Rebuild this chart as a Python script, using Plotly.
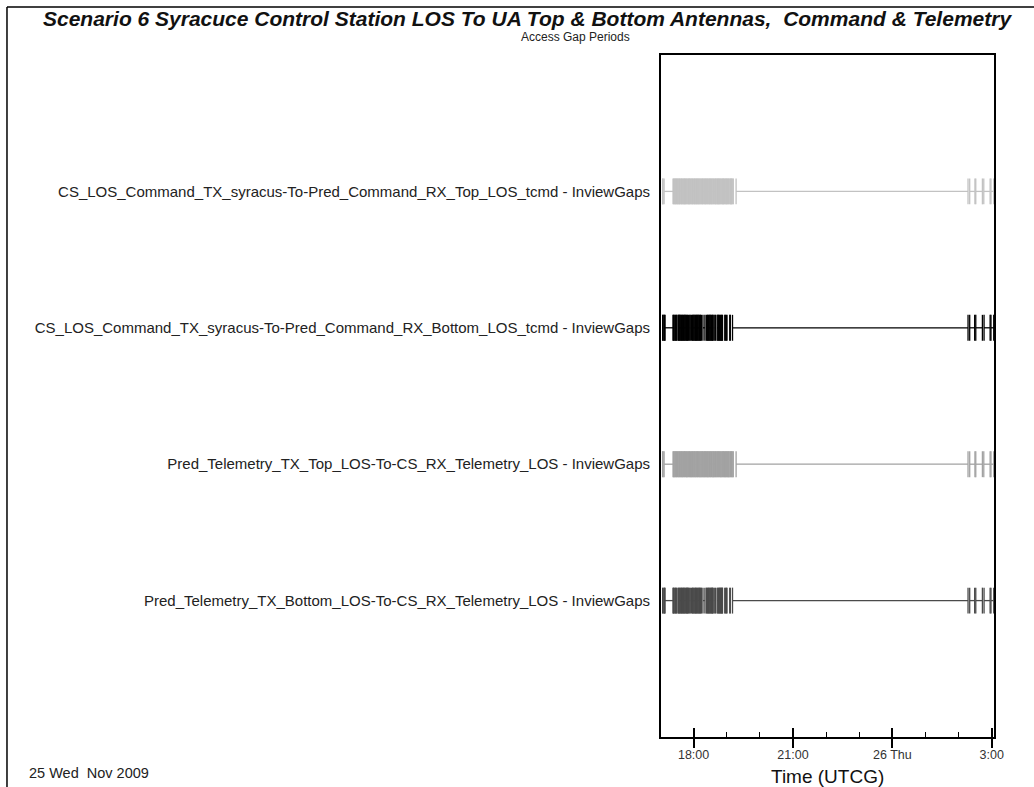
import pandas as pd
import plotly.graph_objects as go

# Scenario epoch; all gap times are minutes after this instant
epoch = pd.Timestamp("2009-11-25 17:00:00")
axis_start_min = 1.0
axis_stop_min = 604.0

row_labels = [
    "CS_LOS_Command_TX_syracus-To-Pred_Command_RX_Top_LOS_tcmd - InviewGaps",
    "CS_LOS_Command_TX_syracus-To-Pred_Command_RX_Bottom_LOS_tcmd - InviewGaps",
    "Pred_Telemetry_TX_Top_LOS-To-CS_RX_Telemetry_LOS - InviewGaps",
    "Pred_Telemetry_TX_Bottom_LOS-To-CS_RX_Telemetry_LOS - InviewGaps",
]
row_colors = ["#c2c2c2", "#000000", "#a2a2a2", "#4a4a4a"]

# Gap periods seen by the top antenna (minutes after epoch)
top_gap_start = [3.9, 6.6, 24.0, 26.4, 28.8, 31.0, 33.6, 35.8, 38.3, 40.4, 43.0, 45.2,
                 47.6, 49.9, 52.4, 54.7, 57.1, 59.4, 61.9, 64.1, 66.5, 68.9, 71.3, 73.6,
                 76.0, 78.4, 80.8, 83.1, 85.5, 87.8, 90.2, 92.6, 95.0, 97.3, 99.7, 102.1,
                 104.5, 106.8, 109.2, 111.6, 114.0, 116.3, 118.7, 121.1, 123.5, 126.0,
                 128.4, 131.0, 137.0, 560.0, 571.0, 585.5, 598.5]
top_gap_stop = [4.6, 22.8, 25.0, 27.2, 29.6, 32.2, 34.4, 36.9, 39.1, 41.6, 43.8, 46.3,
                48.5, 51.0, 53.2, 55.8, 58.0, 60.5, 62.7, 65.2, 67.4, 69.9, 72.1, 74.7,
                76.9, 79.4, 81.6, 84.2, 86.4, 88.9, 91.1, 93.6, 95.8, 98.4, 100.6, 103.1,
                105.3, 107.9, 110.1, 112.6, 114.8, 117.4, 119.6, 122.1, 124.3, 127.0,
                129.2, 131.8, 557.0, 569.5, 583.0, 597.0, 603.5]

# Gap periods seen by the bottom antenna (minutes after epoch)
bottom_gap_start = [4.0, 6.5, 8.2, 23.5, 26.0, 28.5, 31.8, 33.8, 35.9, 38.2, 40.5, 42.8,
                    45.0, 47.4, 49.6, 53.0, 56.5, 58.8, 61.2, 63.6, 65.8, 68.2, 70.5,
                    72.8, 77.0, 83.2, 85.5, 87.9, 90.2, 92.5, 94.8, 98.4, 102.5, 104.8,
                    107.0, 109.4, 111.5, 116.5, 119.5, 125.5, 130.5, 560.0, 571.0, 586.0,
                    598.5]
bottom_gap_stop = [4.8, 7.6, 22.8, 24.5, 27.2, 29.5, 33.0, 35.0, 37.4, 39.6, 42.0, 44.1,
                   46.6, 48.9, 50.8, 54.0, 58.0, 60.3, 62.8, 65.0, 67.4, 69.6, 72.0,
                   74.3, 80.5, 84.6, 87.0, 89.3, 91.6, 94.0, 95.5, 99.4, 103.9, 106.2,
                   108.6, 110.8, 112.4, 117.5, 120.5, 126.5, 557.0, 569.0, 583.0, 597.0,
                   603.5]

row_gaps = [
    (top_gap_start, top_gap_stop),
    (bottom_gap_start, bottom_gap_stop),
    (top_gap_start, top_gap_stop),
    (bottom_gap_start, bottom_gap_stop),
]

tick_times = ["2009-11-25 18:00", "2009-11-25 21:00", "2009-11-26 00:00", "2009-11-26 03:00"]
tick_text = ["18:00", "21:00", "26 Thu", "3:00"]

FONT = "Liberation Sans, Arial, sans-serif"


def to_time(minutes):
    return epoch + pd.Timedelta(minutes=minutes)


fig = go.Figure()
row_pos = [3, 2, 1, 0]
half = 0.095
for label, color, pos, (starts, stops) in zip(row_labels, row_colors, row_pos, row_gaps):
    xs, ys = [], []
    for s, e in zip(starts, stops):
        ts, te = to_time(s), to_time(e)
        # horizontal span of the gap, then end ticks
        xs += [ts, te, None, ts, ts, None, te, te, None]
        ys += [pos, pos, None, pos - half, pos + half, None, pos - half, pos + half, None]
    fig.add_trace(go.Scatter(x=xs, y=ys, mode="lines",
                             line=dict(color=color, width=1.3),
                             hoverinfo="skip", showlegend=False))

x_range = [to_time(axis_start_min), to_time(axis_stop_min)]

fig.update_layout(
    width=1034, height=787,
    margin=dict(l=661, r=40, t=55, b=50),
    paper_bgcolor="white", plot_bgcolor="white",
    font=dict(family=FONT, color="#222222"),
    xaxis=dict(
        type="date", range=x_range,
        tickvals=tick_times, ticktext=tick_text,
        ticks="outside", ticklen=5, tickcolor="rgba(0,0,0,0)",
        tickfont=dict(size=12.5, color="#333333"),
        minor=dict(ticks="inside", ticklen=5, tickwidth=1, tickcolor="black",
                   dtick=3600000, tick0="2009-11-25 17:00", showgrid=False),
        showgrid=False, zeroline=False,
        showline=True, linecolor="black", linewidth=1.5, mirror=True,
    ),
    # major ticks cross the axis line: outer half
    xaxis2=dict(
        type="date", range=x_range, overlaying="x", side="bottom",
        tickvals=tick_times, showticklabels=False,
        ticks="outside", ticklen=10, tickwidth=1.5, tickcolor="black",
        showgrid=False, zeroline=False, showline=False,
    ),
    # ...and inner half
    xaxis3=dict(
        type="date", range=x_range, overlaying="x", side="bottom",
        tickvals=tick_times, showticklabels=False,
        ticks="inside", ticklen=9, tickwidth=1.5, tickcolor="black",
        showgrid=False, zeroline=False, showline=False,
    ),
    yaxis=dict(
        range=[-1, 4], tickvals=row_pos, ticktext=row_labels,
        ticks="outside", ticklen=6, tickcolor="rgba(0,0,0,0)",
        tickfont=dict(size=15, color="#222222"),
        showgrid=False, zeroline=False,
        showline=True, linecolor="black", linewidth=2, mirror=True,
    ),
)

# empty traces so the overlay axes get drawn
for ax in ("x2", "x3"):
    fig.add_trace(go.Scatter(x=x_range, y=[None, None], xaxis=ax, mode="lines",
                             hoverinfo="skip", showlegend=False))

fig.add_annotation(
    text="<b><i>Scenario 6 Syracuce Control Station LOS To UA Top & Bottom Antennas,\u00a0 Command & Telemetry</i></b>",
    xref="paper", yref="paper", x=-0.402, y=1.054, xanchor="center", yanchor="middle",
    showarrow=False, font=dict(family=FONT, size=21, color="#111111"))
fig.add_annotation(
    text="Access Gap Periods", xref="paper", yref="paper", x=-0.258, y=1.027,
    xanchor="center", yanchor="middle", showarrow=False,
    font=dict(family=FONT, size=12, color="#222222"))
fig.add_annotation(
    text="Time (UTCG)", xref="paper", yref="paper", x=0.5, y=-0.0575,
    xanchor="center", yanchor="middle", showarrow=False,
    font=dict(family=FONT, size=19, color="#111111"))
fig.add_annotation(
    text="25 Wed\u00a0 Nov 2009", xref="paper", yref="paper", x=-1.904, y=-0.0528,
    xanchor="left", yanchor="middle", showarrow=False,
    font=dict(family=FONT, size=14.5, color="#222222"))

# outer frame (left and top edges)
fig.add_shape(type="line", xref="paper", yref="paper", x0=-1.964, x1=-1.964,
              y0=-0.2, y1=1.0704, line=dict(color="black", width=1.5))
fig.add_shape(type="line", xref="paper", yref="paper", x0=-1.964, x1=1.2,
              y0=1.0704, y1=1.0704, line=dict(color="black", width=1.5))

fig.write_html("out.html")
